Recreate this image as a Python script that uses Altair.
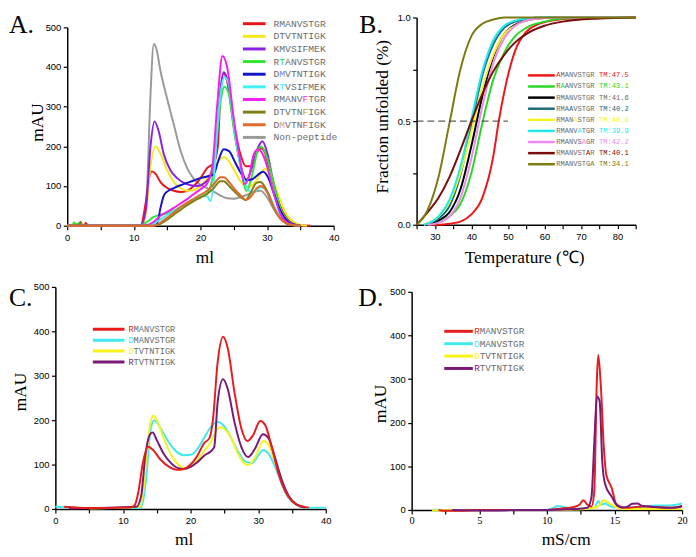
import altair as alt
import pandas as pd

SERIF = "Liberation Serif"
SANS = "Liberation Sans"
MONO = "Liberation Mono"
GREY_TEXT = "#6b6b6b"

# ======================= Panel A (size-exclusion, ml vs mAU) =======================
a_names = ["RMANVSTGR", "DTVTNTIGK", "KMVSIFMEK", "RTANVSTGR", "DMVTNTIGK",
           "KTVSIFMEK", "RMANVFTGR", "DTVTNFIGK", "DMVTNFIGK", "Non-peptide"]
a_colors = ["#e8141c", "#f7e61a", "#8a1fe6", "#2ee62e", "#1414c8",
            "#3ff0f5", "#f21ff2", "#7f7f14", "#e06a2a", "#9a9a9a"]
a_marks = [{}, {}, {}, {1: "#2ee62e"}, {1: "#7b7bf0"}, {1: "#3ff0f5"},
           {5: "#f21ff2"}, {5: "#c9a227"}, {1: "#e89a6a", 5: "#e0501a"}, {}]

a_red_ml = [0, 2.5, 2.8, 3.1, 11, 11.8, 12.3, 12.7, 13.3, 14, 15, 16, 17, 18, 19, 20, 21, 22, 22.6, 23,
            23.5, 24, 25, 26, 26.8, 27.5, 28.5, 29.1, 29.6, 30, 31, 32, 33, 34, 35, 36.5]
a_red_mau = [0, 0, 7, 0, 0, 60, 120, 137, 130, 110, 95, 88, 85, 88, 100, 120, 145, 158, 200, 330,
             385, 365, 260, 180, 150, 150, 185, 195, 188, 165, 105, 48, 18, 5, 1, 0]
a_yel_ml = [0, 11, 11.8, 12.5, 13.3, 14, 15, 16, 17, 18, 19, 20, 21, 22, 23, 23.5, 24, 25, 26, 27.2,
            28, 29, 29.6, 30.2, 31, 32, 33, 34, 35, 36]
a_yel_mau = [0, 0, 30, 150, 200, 182, 140, 110, 95, 88, 90, 100, 120, 145, 168, 173, 168, 142, 112, 98,
             105, 130, 143, 138, 110, 62, 26, 9, 2, 0]
a_pur_ml = [0, 11, 11.8, 12.5, 13.1, 13.7, 14.5, 15.5, 16.5, 17.5, 18.5, 19.5, 20.5, 21.5, 22.3, 23,
            23.5, 24, 25, 26, 26.9, 27.8, 28.6, 29.3, 30, 31, 32, 33, 34, 35]
a_pur_mau = [0, 0, 40, 200, 263, 240, 180, 140, 120, 108, 102, 100, 106, 125, 180, 340,
             387, 370, 250, 155, 115, 150, 195, 213, 185, 105, 45, 15, 4, 0]
a_grn_ml = [0, 0.8, 1.0, 1.4, 1.8, 2.2, 11, 12, 13, 14, 15, 16, 17, 18, 19, 20, 21, 21.8, 22.5, 23,
            23.6, 24.2, 25, 26, 26.9, 27.8, 28.5, 29.1, 30, 31, 32, 33, 34, 35]
a_grn_mau = [0, 0, 8, 3, 6, 0, 0, 10, 22, 28, 31, 38, 47, 57, 65, 72, 82, 120, 230, 310,
             350, 335, 245, 150, 88, 130, 185, 200, 172, 105, 45, 14, 3, 0]
a_blu_ml = [0, 13, 13.5, 14, 14.5, 15, 16, 17, 18, 19, 20, 21, 22, 22.7, 23.5, 24.3, 25.2, 26, 27,
            27.8, 28.6, 29.4, 30.2, 31, 32, 33, 34, 35]
a_blu_mau = [0, 0, 5, 45, 76, 86, 95, 102, 108, 114, 120, 124, 130, 165, 193, 188, 160, 135, 115,
             117, 128, 136, 120, 82, 38, 12, 3, 0]
a_cya_ml = [0, 12.5, 13, 14, 15, 16, 17, 18, 19, 20, 21, 21.5, 22, 22.5, 23, 23.6, 24.2, 25, 26, 27,
            27.6, 28.3, 29, 29.5, 30.2, 31, 32, 33, 34, 35]
a_cya_mau = [0, 0, 6, 16, 27, 37, 47, 57, 67, 76, 74, 62, 115, 240, 330, 375, 360, 260, 150, 95,
             85, 88, 97, 95, 82, 52, 22, 6, 1, 0]
a_mag_ml = [0, 11, 12, 13, 14, 15, 16, 17, 18, 19, 20, 21, 21.8, 22.5, 23.3, 24, 25, 26, 26.6, 27.3,
            28, 28.6, 29.2, 30, 31, 32, 33, 34, 35]
a_mag_mau = [0, 0, 2, 10, 25, 35, 45, 56, 67, 80, 92, 106, 150, 300, 428, 400, 270, 160, 105, 125,
             180, 192, 185, 150, 82, 30, 8, 2, 0]
a_oli_ml = [0, 1.7, 2.0, 2.3, 13, 14, 15, 16, 17, 18, 19, 20, 21, 22, 23, 23.5, 24.3, 25, 26, 26.8,
            27.5, 28.4, 29, 29.6, 30.2, 31, 32, 33, 34, 35]
a_oli_mau = [0, 0, 10, 0, 0, 5, 15, 28, 40, 52, 62, 71, 80, 95, 112, 112, 100, 88, 72, 65,
             82, 108, 110, 100, 80, 45, 18, 5, 1, 0]
a_ora_ml = [0, 13, 14, 15, 16, 17, 18, 19, 20, 21, 22, 23, 23.5, 24.3, 25, 26, 26.8, 27.5, 28.5, 29,
            29.6, 30.2, 31, 32, 33, 34, 35]
a_ora_mau = [0, 0, 8, 20, 33, 47, 58, 68, 78, 88, 105, 122, 122, 110, 95, 77, 65, 72, 95, 100,
             95, 78, 45, 18, 5, 1, 0]
a_gry_ml = [0, 11, 11.5, 12, 12.5, 13.0, 13.4, 14, 15, 16, 17, 18, 19, 20, 21, 22, 23, 24, 25, 26,
            27, 28, 29, 30, 31, 32, 33, 34, 35]
a_gry_mau = [0, 0, 10, 100, 330, 458, 445, 390, 320, 255, 190, 145, 118, 103, 95, 86, 76, 69, 68, 72,
             78, 85, 88, 72, 42, 18, 6, 2, 0]

# ======================= Panel B (melting curves) =======================
b_names = ["AMANVSTGR", "RAANVSTGR", "RMANVSTGR", "RMAAVSTGR", "RMANASTGR",
           "RMANVATGR", "RMANVSAGR", "RMANVSTAR", "RMANVSTGA"]
b_tm = ["47.5", "43.1", "41.6", "40.2", "40.8", "39.9", "42.2", "40.1", "34.1"]
b_mut_pos = [0, 1, None, 3, 4, 5, 6, 7, 8]
b_colors = ["#f01414", "#27d827", "#000000", "#1d6b78", "#f5f51e",
            "#1fe8ef", "#ee88ee", "#7a0c0c", "#7d7a12"]

b_red_t = [28, 31, 34, 37, 40, 43, 46, 47.5, 49, 52, 55, 58, 62, 70, 85]
b_red_f = [0, 0.0, 0.005, 0.015, 0.05, 0.13, 0.33, 0.5, 0.64, 0.84, 0.93, 0.965, 0.985, 0.998, 1.0]
b_grn_t = [28, 31, 34, 37, 40, 43, 46, 49, 52, 55, 60, 65, 75, 85]
b_grn_f = [0, 0.01, 0.04, 0.10, 0.25, 0.49, 0.70, 0.83, 0.91, 0.95, 0.98, 0.995, 1.0, 1.0]
b_blk_t = [28, 31, 34, 37, 40, 43, 46, 49, 52, 55, 60, 65, 85]
b_blk_f = [0, 0.02, 0.06, 0.17, 0.38, 0.62, 0.81, 0.92, 0.965, 0.985, 0.997, 1.0, 1.0]
b_tea_t = [27, 31, 34, 37, 40, 43, 46, 49, 52, 55, 60, 85]
b_tea_f = [0, 0.03, 0.09, 0.24, 0.48, 0.72, 0.87, 0.95, 0.98, 0.993, 1.0, 1.0]
b_yel_t = [27, 31, 34, 37, 40, 43, 46, 49, 52, 55, 60, 65, 85]
b_yel_f = [0, 0.04, 0.11, 0.25, 0.45, 0.66, 0.82, 0.92, 0.96, 0.985, 0.997, 1.0, 1.0]
b_cya_t = [27, 31, 34, 37, 40, 43, 46, 49, 52, 55, 60, 85]
b_cya_f = [0, 0.04, 0.12, 0.28, 0.51, 0.74, 0.89, 0.96, 0.985, 0.995, 1.0, 1.0]
b_vio_t = [28, 31, 34, 37, 40, 43, 46, 49, 52, 55, 60, 65, 85]
b_vio_f = [0, 0.01, 0.04, 0.13, 0.32, 0.57, 0.78, 0.90, 0.96, 0.985, 0.997, 1.0, 1.0]
b_dkr_t = [25, 28, 31, 34, 37, 40, 43, 46, 49, 52, 55, 60, 65, 75, 85]
b_dkr_f = [0, 0.06, 0.13, 0.23, 0.36, 0.50, 0.63, 0.74, 0.82, 0.88, 0.92, 0.96, 0.98, 0.995, 1.0]
b_oli_t = [25, 28, 31, 34, 37, 40, 43, 46, 49, 55, 85]
b_oli_f = [0, 0.07, 0.23, 0.49, 0.75, 0.91, 0.97, 0.99, 1.0, 1.0, 1.0]
b_half_t = [25, 50]
b_half_f = [0.5, 0.5]

# ======================= Panel C (size-exclusion, 4 peptides) =======================
c_names = ["RMANVSTGR", "DMANVSTGR", "DTVTNTIGK", "RTVTNTIGK"]
c_colors = ["#e81c1c", "#3fe9f0", "#f7f21c", "#7a1a78"]

c_red_ml = [1.3, 5, 11, 11.7, 12.3, 12.9, 13.7, 14.5, 15.5, 17, 18, 19, 20, 21, 22, 22.8, 23.3, 24,
            24.8, 25.5, 26.5, 27.5, 28.4, 29.2, 30.3, 31, 32, 33, 34, 35, 36, 37.5]
c_red_mau = [5, 2, 3, 8, 40, 100, 140, 132, 112, 93, 88, 90, 100, 120, 148, 160, 200, 330,
             388, 362, 262, 182, 153, 165, 198, 190, 140, 80, 40, 18, 8, 3]
c_cya_ml = [0, 5, 12.5, 13, 13.5, 14, 14.6, 15, 16, 17, 18, 19, 20, 21, 22, 23, 24, 25, 26, 27, 28,
            29, 30, 30.7, 31.5, 32.5, 33.5, 34.5, 35.5, 37, 40]
c_cya_mau = [5, 2, 2, 20, 80, 170, 200, 195, 170, 145, 128, 121, 122, 135, 160, 185, 196, 186, 160,
             130, 108, 103, 120, 133, 125, 95, 55, 25, 10, 3, 3]
c_yel_ml = [5, 12.5, 13, 13.5, 14, 14.5, 15, 16, 17, 18, 19, 20, 21, 22, 23, 24, 24.5, 25, 26, 27,
            28, 28.5, 29.5, 30.8, 31.5, 32.5, 33.5, 34.5, 35.5, 37]
c_yel_mau = [1, 5, 40, 120, 190, 210, 200, 160, 125, 103, 92, 95, 110, 130, 150, 180, 184, 180, 160,
             125, 102, 99, 115, 153, 145, 105, 60, 28, 12, 3]
c_pur_ml = [2, 12, 12.7, 13.3, 14, 14.4, 15, 16, 17, 18, 19, 20, 21, 22, 23, 23.5, 24, 24.8, 25.5,
            26.5, 27.5, 28.5, 29.5, 30.7, 31.5, 32.5, 33.5, 34.5, 35.5, 37]
c_pur_mau = [1, 5, 30, 120, 168, 172, 155, 125, 105, 93, 90, 95, 105, 120, 130, 140, 240, 292, 270,
             195, 140, 117, 135, 168, 160, 115, 65, 30, 12, 3]

# ======================= Panel D (ion exchange, mS/cm vs mAU) =======================
d_red_ms = [2, 2.5, 3.3, 5, 10, 11, 12, 12.4, 12.7, 13.0, 13.3, 13.5, 13.7, 13.8, 14.0, 14.2, 14.4,
            14.8, 15.1, 15.5, 16, 17, 18, 19, 19.5, 20]
d_red_mau = [0, -2, -2, 0, 0, 3, 7, 12, 22, 12, 8, 40, 300, 355, 280, 150, 80,
             50, 15, 7, 5, 8, 7, 5, 5, 10]
d_pur_ms = [3, 6, 8, 10, 12, 13, 13.3, 13.5, 13.7, 13.9, 14.1, 14.3, 14.8, 15.2, 15.6, 16, 16.3,
            16.7, 17, 18, 19, 20]
d_pur_mau = [0, -1, 0, 0, 2, 5, 30, 150, 260, 250, 110, 60, 30, 10, 5, 8, 14,
             15, 10, 7, 5, 8]
d_cya_ms = [1.5, 5, 10, 10.5, 10.8, 11.2, 12, 13, 13.5, 13.8, 14.0, 14.3, 14.6, 15, 16, 17, 18, 19, 20]
d_cya_mau = [0, 0, 0, 5, 9, 7, 3, 3, 5, 20, 12, 15, 10, 6, 6, 7, 10, 10, 15]
d_yel_ms = [1.5, 5, 10, 11, 12, 13, 13.8, 14.2, 14.5, 15, 15.5, 16, 18, 20]
d_yel_mau = [-1, 0, 0, 0, 1, 3, 8, 22, 18, 8, 3, 2, 2, 3]


# ----------------------------------------------------------------------------------
def one_row(**cols):
    return pd.DataFrame({k: [v] for k, v in cols.items()})


def series_layers(xs, ys, colors, X, Y, width=2.0):
    out = []
    for xx, yy, c in zip(xs, ys, colors):
        df = pd.DataFrame({"x": xx, "y": yy})
        out.append(alt.Chart(df).mark_line(color=c, strokeWidth=width, interpolate="monotone")
                   .encode(x=X, y=Y))
    return out


def legend_layers(labels, line_colors, marks, x0, x1, xt, y0, dy, fs, lw):
    cw = 0.6 * fs
    line_rows, char_rows = [], []
    for i, (lab, col, mk) in enumerate(zip(labels, line_colors, marks)):
        yy = y0 + i * dy
        line_rows.append({"ly": yy, "lc": col})
        for j, ch in enumerate(lab):
            if ch == " ":
                continue
            char_rows.append({"cx": xt + j * cw, "cy": yy, "ch": ch, "cc": mk.get(j, GREY_TEXT)})
    rule = alt.Chart(pd.DataFrame(line_rows)).mark_rule(strokeWidth=lw).encode(
        x=alt.value(x0), x2=alt.value(x1),
        y=alt.Y("ly:Q", scale=None, axis=None),
        color=alt.Color("lc:N", scale=None, legend=None))
    text = alt.Chart(pd.DataFrame(char_rows)).mark_text(
        align="left", baseline="middle", font=MONO, fontSize=fs).encode(
        x=alt.X("cx:Q", scale=None, axis=None),
        y=alt.Y("cy:Q", scale=None, axis=None),
        text="ch:N",
        color=alt.Color("cc:N", scale=None, legend=None))
    return [rule, text]


def letter(txt, x, y):
    return alt.Chart(one_row(k=0)).mark_text(
        text=txt, font=SERIF, fontSize=26, align="left", baseline="top", color="black"
    ).encode(x=alt.value(x), y=alt.value(y))


def anchor(x, y):
    return alt.Chart(one_row(k=0)).mark_point(size=1, opacity=0, filled=True).encode(
        x=alt.value(x), y=alt.value(y))


def bottom_axis(values, expr, title, tx, ty, font=SANS, size=9.5, pad=2.5):
    return alt.Axis(values=values, labelExpr=expr, title=title, titleX=tx, titleY=ty,
                    titleAngle=0, titleAlign="center", titleBaseline="alphabetic",
                    titleFontSize=17.5, labelFont=font, labelFontSize=size, labelPadding=pad)


def left_axis(values, expr, title, tx, ty, offset=0):
    return alt.Axis(values=values, labelExpr=expr, title=title, titleX=tx, titleY=ty,
                    titleAngle=270, titleAlign="center", titleBaseline="alphabetic",
                    titleFontSize=17.5, offset=offset)


def panel(inner, extras, w, h):
    return alt.layer(alt.layer(*inner), *extras).resolve_scale(
        x="independent", y="independent").properties(width=w, height=h)


MAU_VALUES = [0, 100, 200, 300, 400, 500]

# ---------------- Panel A (view origin shared with C horizontally, with B vertically) ----------------
AW, AH = 282, 211
AX = alt.X("x:Q", scale=alt.Scale(domain=[0, 40], range=[12, 282], nice=False, zero=False),
           axis=bottom_axis(list(range(0, 41, 5)), "datum.value % 10 == 0 ? datum.label : ''",
                            "ml", 151, 37))
AY = alt.Y("y:Q", scale=alt.Scale(domain=[0, 500], range=[211, 10], nice=False),
           axis=left_axis(MAU_VALUES, "datum.label", "mAU", -25, 106, offset=-12))
a_xs = [a_gry_ml, a_red_ml, a_yel_ml, a_pur_ml, a_grn_ml, a_blu_ml, a_cya_ml, a_mag_ml, a_oli_ml, a_ora_ml]
a_ys = [a_gry_mau, a_red_mau, a_yel_mau, a_pur_mau, a_grn_mau, a_blu_mau, a_cya_mau, a_mag_mau, a_oli_mau, a_ora_mau]
a_draw_colors = [a_colors[9]] + a_colors[:9]
panel_a = panel(series_layers(a_xs, a_ys, a_draw_colors, AX, AY),
                legend_layers(a_names, a_colors, a_marks, 190, 213, 221, 6.3, 12.8, 9.8, 3)
                + [letter("A.", -47, -5), anchor(-47, -5), anchor(292, 255)],
                AW, AH)

# ---------------- Panel B ----------------
BW, BH = 222, 210
BX = alt.X("x:Q", scale=alt.Scale(domain=[25, 85], nice=False, zero=False),
           axis=bottom_axis(list(range(25, 86, 5)),
                            "datum.value % 10 == 0 && datum.value >= 30 && datum.value <= 80 ? datum.label : ''",
                            "Temperature (℃)", 109, 38))
BY = alt.Y("y:Q", scale=alt.Scale(domain=[0, 1], nice=False),
           axis=left_axis([0, 0.25, 0.5, 0.75, 1],
                          "datum.value == 0 || datum.value == 0.5 || datum.value == 1 ? format(datum.value, '.1f') : ''",
                          "Fraction unfolded (%)", -29, 100))
b_xs = [b_red_t, b_grn_t, b_blk_t, b_tea_t, b_yel_t, b_cya_t, b_vio_t, b_dkr_t, b_oli_t]
b_ys = [b_red_f, b_grn_f, b_blk_f, b_tea_f, b_yel_f, b_cya_f, b_vio_f, b_dkr_f, b_oli_f]
b_labels = [f"{n} TM:{t}" for n, t in zip(b_names, b_tm)]
b_marks = []
for p, c in zip(b_mut_pos, b_colors):
    m = {}
    if p is not None:
        m[p] = c
        for j in range(10, 17):
            m[j] = c
    b_marks.append(m)
half = alt.Chart(pd.DataFrame({"x": [b_half_t[0]], "x2": [b_half_t[1]], "y": [b_half_f[0]]})).mark_rule(
    color="#333333", strokeWidth=1, strokeDash=[7, 4]).encode(x=BX, x2="x2:Q", y=BY)
panel_b = panel(series_layers(b_xs, b_ys, b_colors, BX, BY) + [half],
                legend_layers(b_labels, b_colors, b_marks, 113, 140, 141.5, 58.7, 11.25, 7.2, 2.5)
                + [letter("B.", -58, -5), anchor(-58, -5), anchor(230, 255)],
                BW, BH)

# ---------------- Panel C ----------------
CW, CH = 274, 225
CX = alt.X("x:Q", scale=alt.Scale(domain=[0, 40], nice=False, zero=False),
           axis=bottom_axis(list(range(0, 41, 5)), "datum.value % 10 == 0 ? datum.label : ''",
                            "ml", 130, 36))
CY = alt.Y("y:Q", scale=alt.Scale(domain=[0, 500], nice=False),
           axis=left_axis(MAU_VALUES, "datum.label", "mAU", -30, 106))
c_marks = [{0: c} for c in c_colors]
panel_c = panel(series_layers([c_cya_ml, c_yel_ml, c_pur_ml, c_red_ml],
                              [c_cya_mau, c_yel_mau, c_pur_mau, c_red_mau],
                              [c_colors[1], c_colors[2], c_colors[3], c_colors[0]], CX, CY),
                legend_layers(c_names, c_colors, c_marks, 38, 70, 74, 43, 11, 8.8, 3)
                + [letter("C.", -47, -2), anchor(-47, -7), anchor(282, 240)],
                CW, CH)

# ---------------- Panel D ----------------
DW, DH = 274, 226
DX = alt.X("x:Q", scale=alt.Scale(domain=[0, 20], nice=False, zero=False),
           axis=bottom_axis([0, 2.5, 5, 7.5, 10, 12.5, 15, 17.5, 20],
                            "datum.value % 5 == 0 ? datum.label : ''",
                            "mS/cm", 156, 35, font=SERIF, size=10.5, pad=2))
DY = alt.Y("y:Q", scale=alt.Scale(domain=[0, 500], range=[226, 5], nice=False),
           axis=left_axis(MAU_VALUES, "datum.label", "mAU", -26, 118))
panel_d = panel(series_layers([d_cya_ms, d_yel_ms, d_red_ms, d_pur_ms],
                              [d_cya_mau, d_yel_mau, d_red_mau, d_pur_mau],
                              [c_colors[1], c_colors[2], c_colors[0], c_colors[3]], DX, DY),
                legend_layers(c_names, c_colors, c_marks, 33, 62, 63.3, 45, 12.55, 9.4, 3)
                + [letter("D.", -54, -2), anchor(-54, -7)],
                DW, DH)

row1 = alt.hconcat(panel_a, panel_b, spacing=14, bounds="full")
row2 = alt.hconcat(panel_c, panel_d, spacing=23, bounds="full")
chart = alt.vconcat(row1, row2, spacing=9, bounds="full").properties(
    padding=0, background="white"
).configure_view(stroke=None).configure_axis(
    domainColor="black", domainWidth=1.5, tickColor="black", tickWidth=1.2, tickSize=4,
    labelColor="black", labelFont=SANS, labelFontSize=9.5, labelPadding=2.5,
    labelFlush=False, labelOverlap=False, grid=False,
    titleFont=SERIF, titleFontWeight="normal", titleColor="black"
)

chart.save("out.html", embed_options={"renderer": "svg", "actions": False})
